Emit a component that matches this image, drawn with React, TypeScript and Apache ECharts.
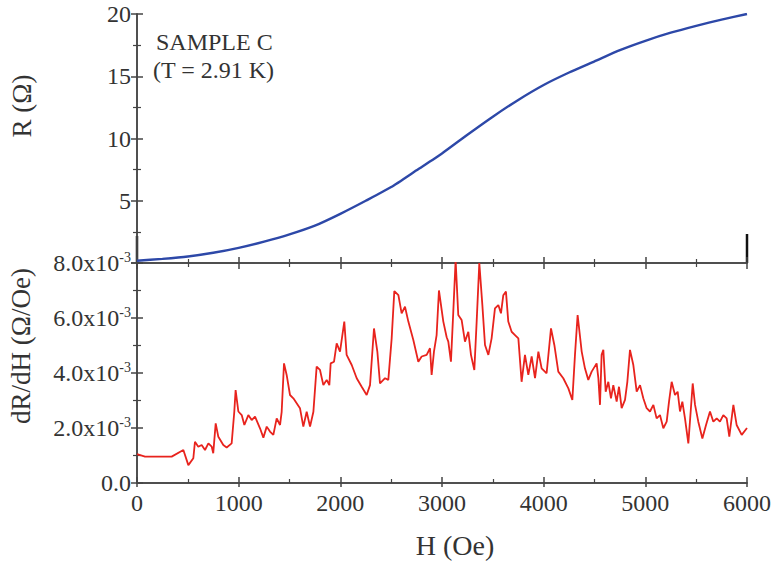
import React, { useEffect, useRef } from "react";
import * as echarts from "echarts";

// Top panel: R (Ω) vs H (Oe)
const H_R = [0, 250, 500, 750, 1000, 1250, 1500, 1750, 2000, 2250, 2500, 2750, 3000, 3250, 3500, 3750, 4000, 4250, 4500, 4750, 5000, 5250, 5500, 5750, 6000];
const R_OHM = [0.18, 0.33, 0.52, 0.82, 1.22, 1.72, 2.3, 3.0, 3.95, 5.0, 6.1, 7.45, 8.8, 10.3, 11.75, 13.1, 14.3, 15.3, 16.2, 17.1, 17.85, 18.5, 19.05, 19.55, 20.0];

// Bottom panel: dR/dH in units of 1e-3 Ω/Oe
const H_D = [0, 79, 341, 456, 505, 554, 570, 603, 636, 669, 702, 735, 750, 774, 800, 849, 882, 931, 957, 970, 997, 1030, 1056, 1095, 1128, 1161, 1210, 1243, 1276, 1308, 1341, 1374, 1407, 1423, 1446, 1472, 1505, 1538, 1603, 1636, 1669, 1702, 1735, 1767, 1800, 1833, 1866, 1892, 1905, 1938, 1964, 1997, 2039, 2062, 2112, 2161, 2210, 2259, 2292, 2331, 2364, 2390, 2440, 2472, 2505, 2531, 2571, 2603, 2636, 2669, 2718, 2767, 2800, 2849, 2882, 2898, 2921, 2947, 2970, 3013, 3046, 3062, 3088, 3111, 3134, 3160, 3193, 3226, 3259, 3285, 3318, 3341, 3367, 3397, 3423, 3456, 3488, 3521, 3554, 3580, 3603, 3629, 3652, 3685, 3718, 3751, 3783, 3816, 3849, 3882, 3915, 3948, 3980, 4029, 4072, 4105, 4144, 4193, 4243, 4282, 4308, 4334, 4374, 4406, 4439, 4472, 4521, 4538, 4554, 4570, 4587, 4610, 4636, 4662, 4685, 4718, 4741, 4767, 4800, 4823, 4849, 4882, 4915, 4948, 4980, 5013, 5046, 5079, 5111, 5144, 5177, 5210, 5233, 5259, 5292, 5318, 5341, 5364, 5390, 5423, 5446, 5466, 5489, 5521, 5561, 5597, 5636, 5669, 5702, 5734, 5767, 5800, 5826, 5866, 5898, 5948, 6000];
const DRDH = [1.05, 0.96, 0.96, 1.2, 0.65, 0.9, 1.5, 1.32, 1.38, 1.2, 1.44, 1.32, 1.08, 2.17, 1.68, 1.38, 1.29, 1.44, 2.59, 3.38, 2.6, 2.47, 2.11, 2.47, 2.29, 2.41, 1.99, 1.65, 2.05, 1.87, 1.75, 2.35, 2.11, 2.59, 4.35, 3.93, 3.2, 3.08, 2.72, 2.05, 2.59, 2.05, 2.59, 4.23, 4.11, 3.56, 3.75, 3.56, 4.35, 4.41, 5.08, 4.78, 5.87, 4.66, 4.29, 3.81, 3.5, 3.2, 3.56, 5.62, 4.78, 3.62, 3.81, 3.75, 5.26, 6.98, 6.83, 6.17, 6.41, 5.87, 5.2, 4.41, 4.6, 4.66, 4.9, 3.93, 4.78, 5.38, 7.0, 5.87, 5.3, 5.14, 4.41, 6.23, 8.1, 6.11, 5.93, 5.14, 5.5, 4.66, 4.11, 5.87, 8.0, 6.47, 5.02, 4.66, 5.26, 6.35, 6.47, 6.17, 6.83, 6.96, 5.87, 5.5, 5.38, 5.26, 3.68, 4.66, 3.93, 4.6, 3.81, 4.78, 4.17, 3.99, 5.62, 5.02, 4.05, 3.81, 3.44, 3.02, 4.66, 6.11, 4.78, 4.17, 3.75, 4.05, 4.35, 3.81, 2.84, 4.66, 4.84, 3.32, 3.68, 3.08, 3.56, 2.96, 3.5, 2.72, 3.02, 3.68, 4.84, 4.29, 3.32, 3.56, 3.08, 2.72, 2.6, 2.84, 2.35, 2.47, 1.99, 2.23, 2.96, 3.68, 3.2, 3.32, 2.6, 2.96, 2.35, 1.44, 2.6, 3.62, 2.84, 2.23, 1.62, 2.11, 2.6, 2.23, 2.35, 2.23, 2.47, 2.35, 1.69, 2.84, 2.11, 1.75, 2.0];

const X_TICKS = [0, 1000, 2000, 3000, 4000, 5000, 6000];

const FONT = "Liberation Serif";
const TXT = "#333333";
const AXC = "#444444";

export default function App() {
  const ref = useRef<HTMLDivElement>(null);
  useEffect(() => {
    document.body.style.margin = "0";
    if (!ref.current) return;
    const chart = echarts.init(ref.current, null, { renderer: "svg" });
    const axisLine = { show: true, lineStyle: { color: AXC, width: 1.5 } };
    const xBase = (gridIndex: number, position: string, showLabel: boolean, minor: boolean, tickLen: number) => ({
      type: "value",
      gridIndex,
      position,
      min: X_TICKS[0],
      max: X_TICKS[X_TICKS.length - 1],
      interval: 1000,
      axisLine,
      axisTick: { show: true, inside: true, length: tickLen, lineStyle: { color: AXC, width: 1.5 } },
      minorTick: { show: minor, splitNumber: 2, length: 4, lineStyle: { color: AXC, width: 1.2 } },
      splitLine: { show: false },
      axisLabel: {
        show: showLabel,
        fontFamily: FONT,
        fontSize: 24,
        color: TXT,
        margin: 8,
        formatter: (v: number) => String(v),
      },
    });
    const yBase = (gridIndex: number, position: string, min: number, max: number, interval: number, label: any) => ({
      type: "value",
      gridIndex,
      position,
      min,
      max,
      interval,
      axisLine,
      axisTick: { show: true, inside: true, length: 6, lineStyle: { color: AXC, width: 1.5 } },
      minorTick: { show: true, splitNumber: 2, length: 4, lineStyle: { color: AXC, width: 1.2 } },
      splitLine: { show: false },
      axisLabel: label,
    });
    const option: any = {
      animation: false,
      backgroundColor: "#ffffff",
      grid: [
        { left: 137, top: 14, width: 610, height: 249 },
        { left: 137, top: 263, width: 610, height: 220 },
      ],
      xAxis: [
        xBase(0, "bottom", false, true, 6),
        xBase(0, "top", false, true, 6),
        xBase(1, "bottom", true, true, 6),
        xBase(1, "top", false, false, 4),
      ],
      yAxis: [
        yBase(0, "left", 0, 20, 5, {
          show: true,
          fontFamily: FONT,
          fontSize: 24,
          color: TXT,
          margin: 6,
          formatter: (v: number) => (v === 0 ? "" : String(v)),
        }),
        yBase(0, "right", 0, 20, 5, { show: false }),
        yBase(1, "left", 0, 8, 2, {
          show: true,
          margin: 6,
          formatter: (v: number) => (v === 0 ? "{a|0.0}" : `{a|${v.toFixed(1)}x10}{b|-3}`),
          rich: {
            a: { fontFamily: FONT, fontSize: 24, color: TXT, lineHeight: 26 },
            b: { fontFamily: FONT, fontSize: 14, color: TXT, lineHeight: 14, verticalAlign: "top" },
          },
        }),
        yBase(1, "right", 0, 8, 2, { show: false }),
      ],
      series: [
        {
          type: "line",
          xAxisIndex: 0,
          yAxisIndex: 0,
          data: H_R.map((h, i) => [h, R_OHM[i]]),
          showSymbol: false,
          smooth: 0.2,
          lineStyle: { color: "#2d48a8", width: 2.4 },
          clip: true,
        },
        {
          type: "line",
          xAxisIndex: 2,
          yAxisIndex: 2,
          data: H_D.map((h, i) => [h, DRDH[i]]),
          showSymbol: false,
          lineStyle: { color: "#e8231d", width: 1.8 },
          clip: true,
        },
      ],
      graphic: [
        { type: "text", left: 156, top: 30, style: { text: "SAMPLE C", font: `24px ${FONT}`, fill: TXT } },
        { type: "text", left: 153, top: 58, style: { text: "(T = 2.91 K)", font: `24px ${FONT}`, fill: TXT } },
        {
          type: "text",
          x: 22,
          y: 106,
          rotation: Math.PI / 2,
          style: { text: "R (Ω)", font: `27px ${FONT}`, fill: TXT, align: "center", verticalAlign: "middle" },
        },
        {
          type: "text",
          x: 21,
          y: 346,
          rotation: Math.PI / 2,
          style: { text: "dR/dH (Ω/Oe)", font: `27px ${FONT}`, fill: TXT, align: "center", verticalAlign: "middle" },
        },
        {
          type: "text",
          x: 455,
          y: 545,
          style: { text: "H (Oe)", font: `28px ${FONT}`, fill: TXT, align: "center", verticalAlign: "middle" },
        },
        { type: "line", shape: { x1: 137, y1: 236, x2: 137, y2: 263 }, style: { stroke: "#111", lineWidth: 2.5 } },
        { type: "line", shape: { x1: 747, y1: 234, x2: 747, y2: 263 }, style: { stroke: "#111", lineWidth: 2.5 } },
      ],
    };
    chart.setOption(option);
    return () => chart.dispose();
  }, []);
  return <div ref={ref} style={{ width: 775, height: 563 }} />;
}
